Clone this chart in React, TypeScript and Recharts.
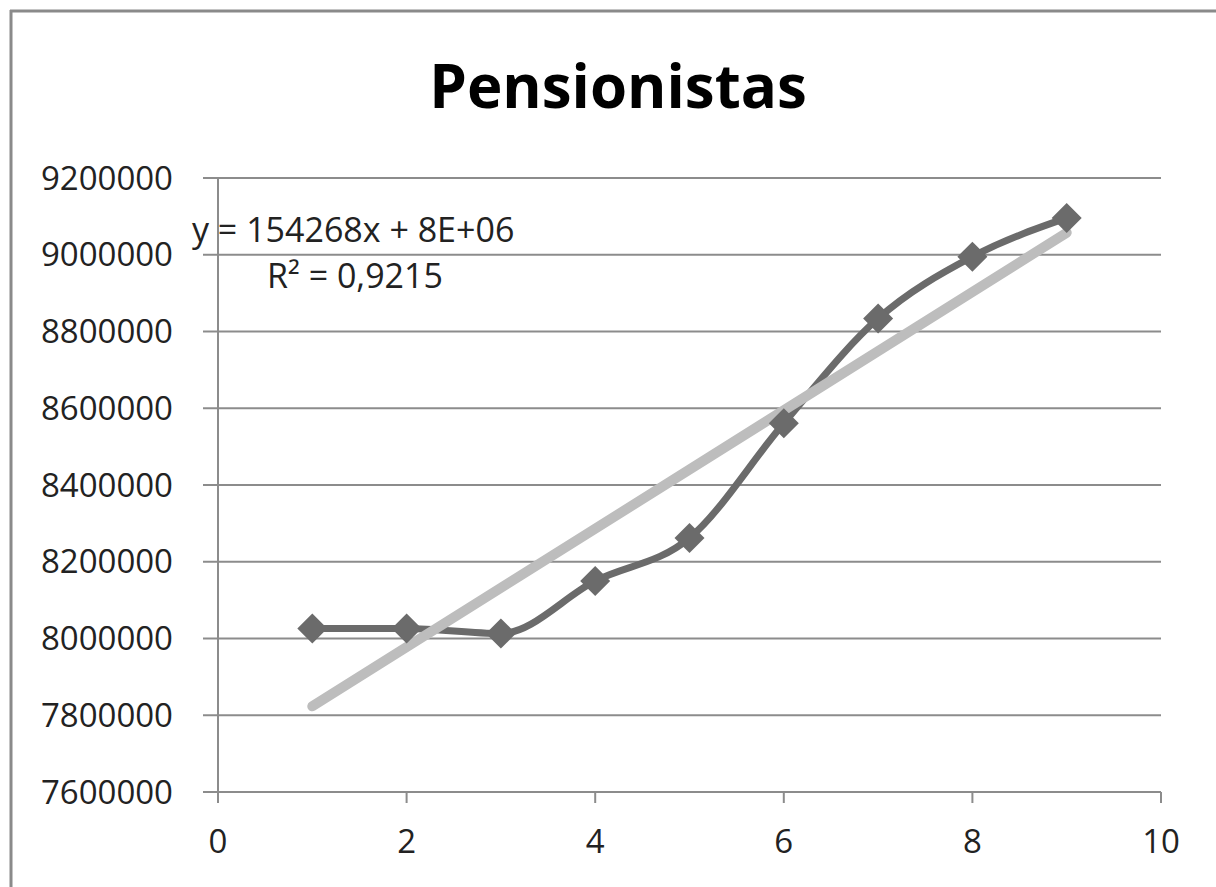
import React from "react";
import {
  ComposedChart,
  Line,
  XAxis,
  YAxis,
  CartesianGrid,
} from "recharts";

// Pensionistas per period
const periods = [1, 2, 3, 4, 5, 6, 7, 8, 9];
const pensionistas = [
  8026000, 8026000, 8013000, 8150000, 8262000, 8561000, 8834000, 8995000,
  9096000,
];

// Linear trend as printed on the chart: y = 154268x + 8E+06
const trendSlope = 154268;
const trendIntercept = 7669000;
const trendRange = [1, 9];

const xTicks = [0, 2, 4, 6, 8, 10];
const yTicks = [
  7600000, 7800000, 8000000, 8200000, 8400000, 8600000, 8800000, 9000000,
  9200000,
];

const seriesData = periods.map((x, i) => ({ x, value: pensionistas[i] }));
const trendData = trendRange.map((x) => ({
  x,
  trend: trendSlope * x + trendIntercept,
}));

const FONT = "'Open Sans', sans-serif";
const GRID = "#8c8c8c";

const Diamond = (props: any) => {
  const { cx, cy } = props;
  if (cx == null || cy == null) return null;
  const r = 15;
  return (
    <path
      d={`M${cx},${cy - r} L${cx + r},${cy} L${cx},${cy + r} L${cx - r},${cy} Z`}
      fill="#6b6b6b"
      stroke="none"
    />
  );
};

export default function App() {
  const tickStyle = { fill: "#222", fontSize: 33, fontFamily: FONT };
  return (
    <div
      style={{
        position: "absolute",
        left: 0,
        top: 0,
        width: 1216,
        height: 887,
        background: "#fff",
        fontFamily: FONT,
      }}
    >
      <ComposedChart
        width={1216}
        height={887}
        margin={{ top: 178, right: 55, bottom: 35, left: 18 }}
      >
        <CartesianGrid
          vertical={false}
          stroke={GRID}
          strokeWidth={2}
        />
        <XAxis
          type="number"
          dataKey="x"
          domain={[0, 10]}
          ticks={xTicks}
          height={60}
          tickSize={11}
          tickMargin={27}
          stroke={GRID}
          strokeWidth={2}
          tick={tickStyle}
          allowDataOverflow
        />
        <YAxis
          type="number"
          domain={[7600000, 9200000]}
          ticks={yTicks}
          width={200}
          tickSize={15}
          tickMargin={30}
          stroke={GRID}
          strokeWidth={2}
          tick={tickStyle}
          allowDataOverflow
        />
        <Line
          data={seriesData}
          dataKey="value"
          type="monotone"
          stroke="#6b6b6b"
          strokeWidth={7}
          dot={<Diamond />}
          activeDot={false}
          isAnimationActive={false}
        />
        <Line
          data={trendData}
          dataKey="trend"
          type="linear"
          stroke="#bdbdbd"
          strokeWidth={10}
          strokeLinecap="round"
          dot={false}
          activeDot={false}
          isAnimationActive={false}
        />
      </ComposedChart>
      <svg
        width={1216}
        height={887}
        style={{ position: "absolute", left: 0, top: 0, pointerEvents: "none" }}
      >
        <line x1={10} y1={11} x2={1216} y2={11} stroke="#8a8a8a" strokeWidth={3} />
        <line x1={11} y1={10} x2={11} y2={887} stroke="#8a8a8a" strokeWidth={3} />
        <text
          x={618}
          y={108}
          textAnchor="middle"
          fontFamily={FONT}
          fontWeight={700}
          fontSize={60}
          fill="#000"
        >
          Pensionistas
        </text>
        <text x={192} y={242} fontFamily={FONT} fontSize={34} fill="#222">
          y = 154268x + 8E+06
        </text>
        <text x={267} y={288} fontFamily={FONT} fontSize={34} fill="#222">
          R² = 0,9215
        </text>
      </svg>
    </div>
  );
}
